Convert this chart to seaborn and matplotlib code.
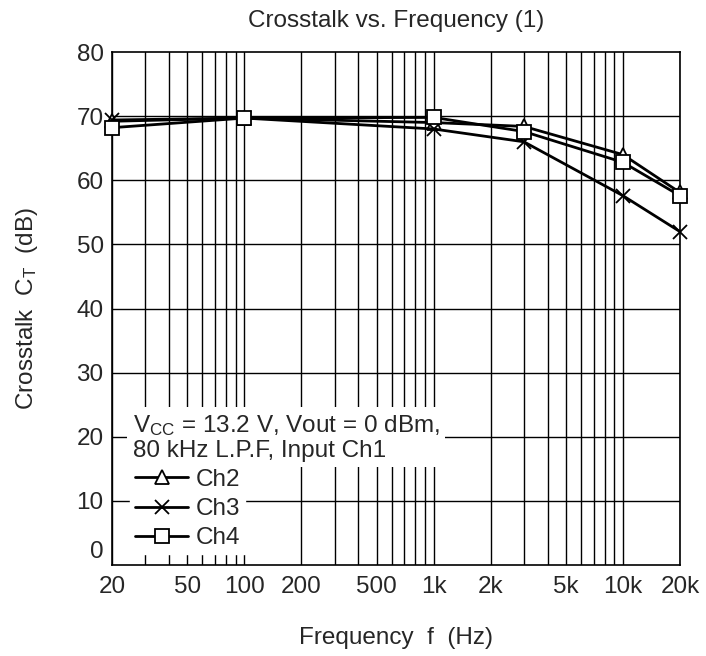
import numpy as np
import pandas as pd
import matplotlib
matplotlib.use("Agg")
import matplotlib.pyplot as plt
import matplotlib.transforms as mtransforms
import seaborn as sns
from matplotlib.ticker import FixedLocator, FixedFormatter, NullLocator

freq = [20, 100, 1000, 3000, 10000, 20000]
ch2 = [69.2, 69.7, 69.0, 68.4, 64.0, 58.1]
ch3 = [69.4, 69.7, 68.0, 66.0, 57.6, 52.0]
ch4 = [68.2, 69.7, 69.8, 67.6, 62.8, 57.6]
channels = ["Ch2", "Ch3", "Ch4"]
markers = {"Ch2": "^", "Ch3": "x", "Ch4": "s"}

tick_vals = [20, 50, 100, 200, 500, 1000, 2000, 5000, 10000, 20000]
tick_text = ["20", "50", "100", "200", "500", "1k", "2k", "5k", "10k", "20k"]

data = pd.DataFrame({
    "freq": freq * 3,
    "ct": ch2 + ch3 + ch4,
    "ch": np.repeat(channels, len(freq)),
})

sns.set_style("white")
plt.rcParams["font.family"] = ["Liberation Sans", "DejaVu Sans"]
plt.rcParams["mathtext.fontset"] = "custom"
plt.rcParams["mathtext.rm"] = "Liberation Sans"
plt.rcParams["mathtext.it"] = "Liberation Sans"

fs = 17.5

fig = plt.figure(figsize=(7.06, 6.56), dpi=100)
ax = fig.add_axes([0.1586, 0.1387, 0.8044, 0.782])

for ch in channels:
    sub = data[data["ch"] == ch]
    sns.lineplot(data=sub, x="freq", y="ct", color="black", label=ch,
                 marker=markers[ch], markersize=9.5, markerfacecolor="white",
                 markeredgecolor="black", markeredgewidth=1.3, linewidth=2,
                 ax=ax, zorder=3, clip_on=False)

ax.set_xscale("log")
ax.set_xlim(20, 20000)
ax.set_ylim(0, 80)

grid_x = [m * 10 ** e for e in range(1, 5) for m in range(1, 10)]
grid_x = [g for g in grid_x if 20 <= g <= 20000]
for g in grid_x:
    ax.axvline(g, color="black", lw=1, zorder=1)
for yv in range(10, 80, 10):
    ax.axhline(yv, color="black", lw=1, zorder=1)

ax.xaxis.set_major_locator(FixedLocator(tick_vals))
ax.xaxis.set_major_formatter(FixedFormatter(tick_text))
ax.xaxis.set_minor_locator(NullLocator())
ax.set_yticks(range(0, 81, 10))
ax.tick_params(axis="x", length=0, labelsize=fs, pad=8)
ax.tick_params(axis="y", length=0, labelsize=fs, pad=6)
for s in ax.spines.values():
    s.set_color("black")
    s.set_linewidth(1.2)

# the "0" label sits a little above the axis line in the original
zero_lab = ax.yaxis.get_major_ticks()[0].label1
zero_lab.set_transform(zero_lab.get_transform() +
                       mtransforms.ScaledTranslation(0, 0.16, fig.dpi_scale_trans))

ax.set_title("Crosstalk vs. Frequency (1)", fontsize=fs, pad=18)
ax.set_xlabel("Frequency  f  (Hz)", fontsize=fs, labelpad=21)
ax.set_ylabel("Crosstalk  C$_\\mathrm{T}$  (dB)", fontsize=fs, labelpad=26)

ax.text(0.037, 0.296, "V$_{\\mathrm{CC}}$ = 13.2 V, Vout = 0 dBm,\n80 kHz L.P.F, Input Ch1",
        transform=ax.transAxes, fontsize=fs, ha="left", va="top", linespacing=1.1,
        zorder=5, bbox=dict(facecolor="white", edgecolor="none", pad=4))

handles, labels = ax.get_legend_handles_labels()
leg = ax.legend(handles, labels,
                loc="lower left", bbox_to_anchor=(0.032, 0.021), fontsize=fs,
                frameon=True, facecolor="white", edgecolor="white", framealpha=1,
                fancybox=False, handlelength=2.2, handletextpad=0.3,
                labelspacing=0.3, borderpad=0.2, borderaxespad=0)
leg.set_zorder(5)

fig.savefig("out.png", dpi=100)
